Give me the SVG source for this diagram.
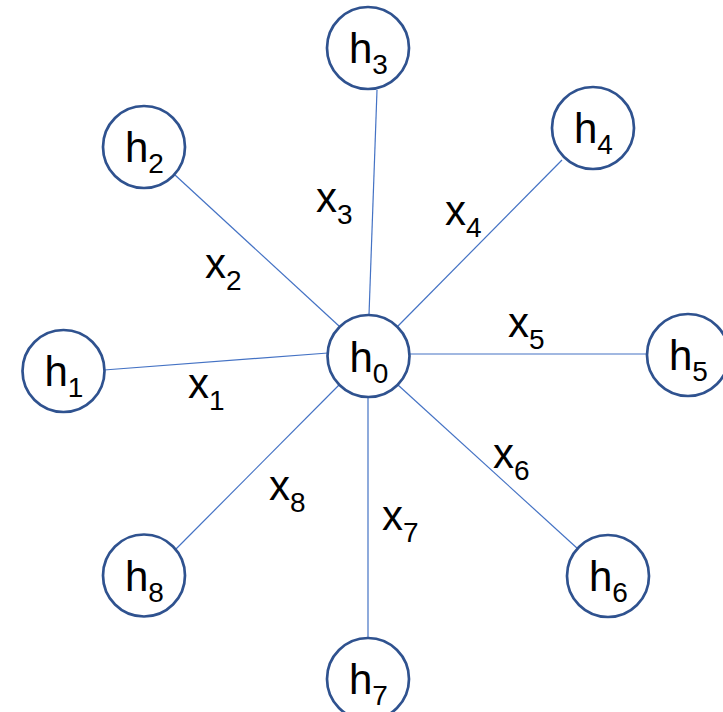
<svg xmlns="http://www.w3.org/2000/svg" width="723" height="712" viewBox="0 0 723 712">
<style>
.node circle{fill:#fff;stroke:#2F528F;stroke-width:2.7}
.edges line{stroke:#4472C4;stroke-width:1.2}
text{font-family:"Liberation Sans",Arial,sans-serif;font-size:42px;fill:#000}
.sub{font-size:28px}
</style>
<rect width="723" height="712" fill="#fff"/>
<g class="edges" id="connectors">
<line x1="104" y1="370" x2="328" y2="353"/>
<line x1="175" y1="175" x2="339" y2="326"/>
<line x1="377" y1="90" x2="369" y2="315"/>
<line x1="562" y1="160" x2="398" y2="326"/>
<line x1="410" y1="354" x2="647" y2="354"/>
<line x1="578" y1="549" x2="398" y2="385"/>
<line x1="368" y1="397" x2="368" y2="638"/>
<line x1="175" y1="550" x2="339" y2="385"/>
</g>
<g id="edge-labels">
<text x="188" y="398">x<tspan class="sub" dy="12">1</tspan></text>
<text x="205" y="278">x<tspan class="sub" dy="12">2</tspan></text>
<text x="316" y="212">x<tspan class="sub" dy="12">3</tspan></text>
<text x="445" y="225">x<tspan class="sub" dy="12">4</tspan></text>
<text x="508" y="337">x<tspan class="sub" dy="12">5</tspan></text>
<text x="493" y="468">x<tspan class="sub" dy="12">6</tspan></text>
<text x="382" y="530">x<tspan class="sub" dy="12">7</tspan></text>
<text x="269" y="500">x<tspan class="sub" dy="12">8</tspan></text>
</g>
<g class="node" id="h0"><circle cx="368.5" cy="356" r="41"/><text x="349.5" y="372">h<tspan class="sub" dy="11">0</tspan></text></g>
<g class="node" id="h1"><circle cx="63.5" cy="371" r="41"/><text x="44.5" y="386">h<tspan class="sub" dy="11">1</tspan></text></g>
<g class="node" id="h2"><circle cx="144" cy="147" r="41"/><text x="125" y="162">h<tspan class="sub" dy="11">2</tspan></text></g>
<g class="node" id="h3"><circle cx="368" cy="48" r="41"/><text x="349" y="63">h<tspan class="sub" dy="11">3</tspan></text></g>
<g class="node" id="h4"><circle cx="593" cy="128" r="41"/><text x="574" y="143">h<tspan class="sub" dy="11">4</tspan></text></g>
<g class="node" id="h5"><circle cx="688" cy="355" r="41"/><text x="669" y="370">h<tspan class="sub" dy="11">5</tspan></text></g>
<g class="node" id="h6"><circle cx="608" cy="576" r="41"/><text x="589" y="591">h<tspan class="sub" dy="11">6</tspan></text></g>
<g class="node" id="h7"><circle cx="368" cy="679" r="41"/><text x="349" y="694">h<tspan class="sub" dy="11">7</tspan></text></g>
<g class="node" id="h8"><circle cx="144" cy="575.5" r="41"/><text x="125" y="590.5">h<tspan class="sub" dy="11">8</tspan></text></g>
</svg>
